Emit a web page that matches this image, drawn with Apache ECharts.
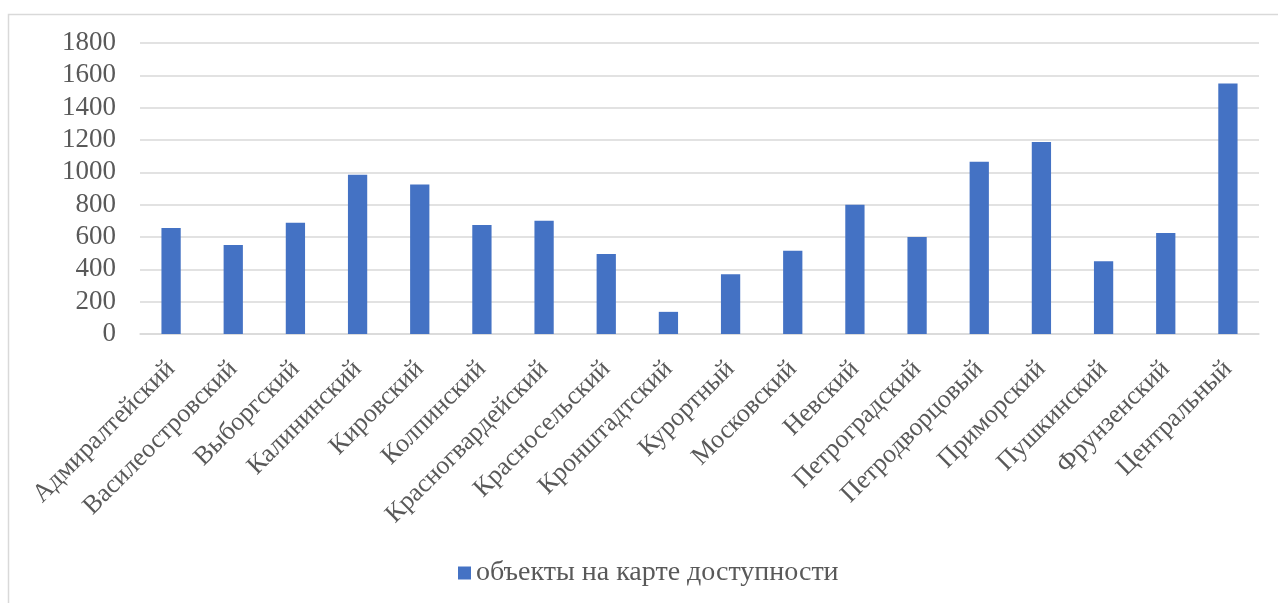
<!DOCTYPE html>
<html>
<head>
<meta charset="utf-8">
<script src="https://cdn.jsdelivr.net/npm/echarts@6/dist/echarts.min.js"></script>
<style>
  html, body { margin: 0; padding: 0; background: #fff; }
  #chart { width: 1278px; height: 603px; }
</style>
</head>
<body>
<div id="chart"></div>
<script>
// Районы Санкт-Петербурга
const districts = [
  'Адмиралтейский', 'Василеостровский', 'Выборгский', 'Калининский',
  'Кировский', 'Колпинский', 'Красногвардейский', 'Красносельский',
  'Кронштадтский', 'Курортный', 'Московский', 'Невский',
  'Петроградский', 'Петродворцовый', 'Приморский', 'Пушкинский',
  'Фрунзенский', 'Центральный'
];
// Число объектов на карте доступности по районам
const objectCounts = [
  656, 550, 688, 985, 925, 675, 700, 495, 137,
  370, 515, 800, 600, 1065, 1188, 450, 625, 1550
];
const seriesName = 'объекты на карте доступности';
const yTicks = { min: 0, max: 1800, interval: 200 };

const textColor = '#595959';
const gridColor = '#d9d9d9';
const serif = '"Liberation Serif", "Times New Roman", serif';

const chart = echarts.init(document.getElementById('chart'), null, { renderer: 'canvas' });
chart.setOption({
  animation: false,
  backgroundColor: '#ffffff',
  graphic: [{
    type: 'rect',
    shape: { x: 8.5, y: 14.5, width: 1300, height: 620 },
    style: { fill: 'none', stroke: '#d9d9d9', lineWidth: 1.5 },
    silent: true
  }],
  grid: { left: 140, right: 19, top: 43, bottom: 269, containLabel: false },
  legend: {
    bottom: 11,
    left: 453,
    padding: [5, 5, 5, 5],
    itemWidth: 13,
    itemHeight: 13,
    itemGap: 7,
    icon: 'rect',
    textStyle: { color: textColor, fontFamily: serif, fontSize: 28 },
    data: [seriesName]
  },
  xAxis: {
    type: 'category',
    data: districts,
    axisLine: { show: true, lineStyle: { color: gridColor, width: 1.5 } },
    axisTick: { show: false },
    axisLabel: {
      interval: 0,
      rotate: 45,
      margin: 31,
      color: textColor,
      fontFamily: serif,
      fontSize: 26
    }
  },
  yAxis: {
    type: 'value',
    min: yTicks.min,
    max: yTicks.max,
    interval: yTicks.interval,
    axisLine: { show: false },
    axisTick: { show: false },
    splitLine: { lineStyle: { color: gridColor, width: 1.5 } },
    axisLabel: {
      margin: 24,
      color: textColor,
      fontFamily: serif,
      fontSize: 27,
      formatter: (v) => String(v)
    }
  },
  series: [{
    name: seriesName,
    type: 'bar',
    data: objectCounts,
    barWidth: '31%',
    itemStyle: { color: '#4472c4' }
  }]
});
</script>
</body>
</html>
